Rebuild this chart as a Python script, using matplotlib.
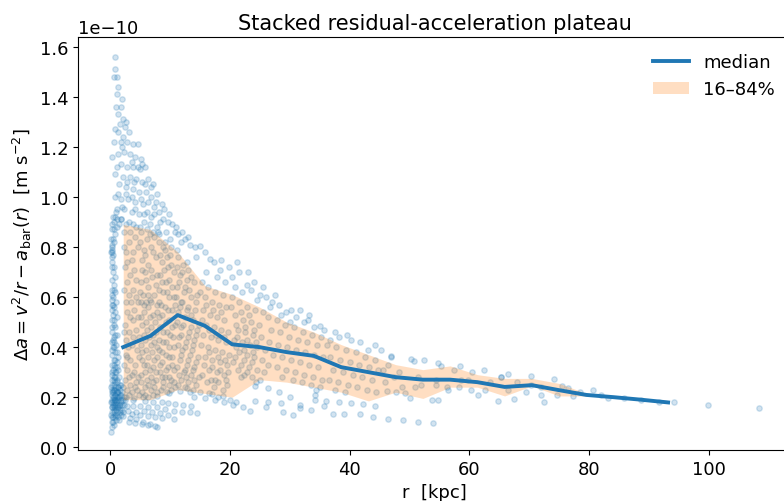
import numpy as np
import matplotlib
matplotlib.use("Agg")
import matplotlib.pyplot as plt
from matplotlib.patches import Patch
from matplotlib.lines import Line2D

# --- data (a in units of 1e-10 m s^-2, r in kpc) ---

# binned median and 16-84% band
med_r = [2.2, 6.75, 11.3, 15.85, 20.4, 24.95, 29.5, 34.05, 38.6, 43.15, 47.7,
         52.25, 56.8, 61.35, 65.9, 70.45, 75.0, 79.55, 84.1, 88.65, 93.2]
med_a = [0.40, 0.445, 0.528, 0.485, 0.411, 0.40, 0.38, 0.365, 0.32, 0.30, 0.28,
         0.27, 0.27, 0.26, 0.241, 0.248, 0.228, 0.209, 0.20, 0.19, 0.179]
p16_a = [0.19, 0.19, 0.23, 0.215, 0.20, 0.27, 0.26, 0.24, 0.22, 0.185, 0.22,
         0.195, 0.24, 0.24, 0.205, 0.245, 0.205, 0.205, 0.198, 0.188, 0.177]
p84_a = [0.89, 0.87, 0.78, 0.645, 0.61, 0.56, 0.50, 0.46, 0.41, 0.37, 0.33,
         0.31, 0.325, 0.29, 0.275, 0.275, 0.255, 0.215, 0.202, 0.192, 0.181]

x_ticks = [0, 20, 40, 60, 80, 100]
y_ticks = [0.0, 0.2, 0.4, 0.6, 0.8, 1.0, 1.2, 1.4, 1.6]

# individual radii, innermost points of the small systems
col_pts = [
    (0.2, 0.06), (0.4, 0.08), (0.3, 0.10), (0.7, 0.09), (0.5, 0.12), (1.0, 0.11), (0.2, 0.13),
    (0.8, 0.13), (1.3, 0.12), (0.4, 0.14), (1.1, 0.14), (0.6, 0.15), (1.6, 0.14), (0.3, 0.16),
    (0.9, 0.16), (1.4, 0.16), (2.0, 0.15), (0.5, 0.17), (1.2, 0.17), (0.2, 0.18), (0.7, 0.18),
    (1.0, 0.18), (1.7, 0.17), (2.3, 0.17), (0.4, 0.19), (0.8, 0.19), (1.3, 0.19), (0.6, 0.20),
    (1.1, 0.20), (1.5, 0.20), (2.1, 0.19), (0.3, 0.21), (0.9, 0.21), (1.2, 0.22), (0.5, 0.22),
    (1.8, 0.21), (0.7, 0.23), (1.0, 0.23), (0.2, 0.24), (1.4, 0.24), (0.6, 0.25), (0.9, 0.26),
    (1.6, 0.25), (0.4, 0.27), (1.2, 0.27), (0.7, 0.28), (0.3, 0.29), (1.0, 0.30), (0.5, 0.31),
    (1.4, 0.31), (0.8, 0.32), (0.3, 0.33), (1.1, 0.34), (0.6, 0.35), (0.4, 0.37), (1.3, 0.36),
    (0.8, 0.38), (0.5, 0.40), (1.0, 0.41), (0.3, 0.42), (0.7, 0.44), (1.2, 0.45), (0.4, 0.46),
    (0.9, 0.48), (0.6, 0.49), (0.3, 0.51), (1.1, 0.52), (0.5, 0.53), (0.8, 0.54), (0.4, 0.55),
    (0.7, 0.56), (0.3, 0.57), (1.0, 0.58), (0.5, 0.60), (0.8, 0.62), (0.3, 0.63), (0.6, 0.65),
    (0.4, 0.67), (0.9, 0.68), (0.5, 0.70), (0.3, 0.72), (0.4, 0.74), (0.3, 0.76), (0.5, 0.77),
    (0.3, 0.79), (0.4, 0.80), (0.3, 0.81), (0.6, 0.82), (0.2, 0.83), (0.8, 0.85), (0.4, 0.87),
    (1.1, 0.88), (0.6, 0.90), (1.5, 0.89), (0.9, 0.92), (1.9, 0.91),
    (0.6, 0.16), (1.1, 0.16), (1.9, 0.18), (0.9, 0.19), (1.4, 0.22), (0.4, 0.23), (1.7, 0.23),
    (0.8, 0.28), (0.6, 0.42), (0.4, 0.59), (0.2, 0.78),
    (0.5, 0.10), (0.9, 0.12), (1.5, 0.11), (0.3, 0.12), (1.2, 0.13), (1.9, 0.13), (0.7, 0.14),
    (1.7, 0.15), (2.2, 0.14), (0.4, 0.16), (1.0, 0.15), (0.8, 0.17), (1.5, 0.17), (2.0, 0.17),
    (0.3, 0.18), (1.1, 0.19), (1.8, 0.19), (0.6, 0.19), (0.5, 0.20), (1.3, 0.20), (2.3, 0.20),
    (0.8, 0.21), (1.6, 0.21), (0.3, 0.22), (1.1, 0.22), (2.0, 0.22), (0.6, 0.23), (1.3, 0.24),
    (0.9, 0.24), (0.4, 0.25), (1.8, 0.25), (1.1, 0.26), (0.6, 0.27), (1.5, 0.28), (0.3, 0.30),
    (0.9, 0.30), (1.2, 0.32), (0.6, 0.33), (0.9, 0.35), (0.4, 0.39), (1.1, 0.38), (0.7, 0.40),
    (0.5, 0.43), (0.9, 0.45), (0.3, 0.48), (0.7, 0.51), (0.5, 0.57), (0.4, 0.61), (0.7, 0.63),
    (0.6, 0.72), (0.4, 0.78), (0.5, 0.83), (0.7, 0.87), (1.2, 0.91), (0.3, 0.89),
]

# steep high-acceleration wedge at small r
wedge_pts = [
    (0.8, 1.56), (0.8, 1.51), (0.6, 1.48), (1.1, 1.48), (1.4, 1.44), (1.2, 1.41), (2.0, 1.39),
    (1.9, 1.36), (1.4, 1.33), (2.1, 1.31), (2.7, 1.30), (0.9, 1.27), (1.3, 1.26), (3.1, 1.26),
    (2.2, 1.24), (0.7, 1.22), (1.9, 1.22), (2.9, 1.22), (3.8, 1.21), (4.7, 1.21), (0.3, 1.16),
    (1.3, 1.17), (2.4, 1.18), (3.4, 1.17), (4.2, 1.16), (5.2, 1.15), (1.8, 1.13), (2.8, 1.12),
    (3.9, 1.12), (5.0, 1.11), (5.8, 1.12), (0.9, 1.09), (2.1, 1.08), (3.3, 1.08), (4.4, 1.07),
    (5.4, 1.06), (6.4, 1.07), (7.2, 1.05), (1.5, 1.05), (2.6, 1.04), (3.8, 1.03), (4.9, 1.02),
    (6.0, 1.02), (6.9, 1.00), (0.8, 1.00), (1.9, 0.99), (3.0, 0.99), (4.2, 0.98), (5.5, 0.97),
    (7.6, 0.98), (8.6, 0.97), (1.2, 0.95), (2.4, 0.95), (3.6, 0.94), (4.8, 0.93), (6.2, 0.94),
    (7.3, 0.93), (8.1, 0.94), (0.5, 0.92), (1.8, 0.91), (3.2, 0.90), (5.6, 0.90), (6.7, 0.89),
    (8.9, 0.91), (9.6, 0.90), (10.3, 0.89), (4.3, 0.88), (7.8, 0.88), (9.3, 0.86), (10.8, 0.86),
    (11.4, 0.85), (12.5, 0.83), (11.9, 0.82), (13.4, 0.81), (10.0, 0.83), (14.2, 0.80),
    (5.3, 1.13), (6.8, 1.04), (7.9, 1.01), (9.0, 0.95), (9.9, 0.93), (11.0, 0.88), (12.0, 0.86),
    (13.0, 0.84),
    (1.0, 1.36), (1.6, 1.29), (2.5, 1.28), (1.1, 1.12), (2.0, 1.20), (3.6, 1.14), (4.6, 1.12),
    (2.9, 1.06), (4.0, 1.06), (5.8, 1.05), (1.4, 1.01), (2.6, 1.01), (3.6, 1.00), (5.1, 0.99),
    (6.3, 0.98), (7.4, 0.96), (2.0, 0.96), (4.1, 0.95), (5.7, 0.93), (6.9, 0.92), (8.4, 0.90),
    (1.0, 0.94), (2.7, 0.89), (3.8, 0.89), (5.0, 0.88), (6.2, 0.87), (7.2, 0.86), (8.1, 0.85),
    (9.2, 0.82), (10.2, 0.80), (11.2, 0.79),
]

# points above the band at intermediate radii
upper_pts = [
    (15.0, 0.805), (16.7, 0.752), (18.3, 0.71), (20.3, 0.68), (22.8, 0.65), (25.0, 0.61),
    (27.0, 0.58), (29.4, 0.54), (31.1, 0.52), (35.0, 0.485), (15.8, 0.78), (17.3, 0.74),
    (16.0, 0.70), (17.8, 0.68), (19.2, 0.66), (18.5, 0.75), (14.3, 0.76), (20.8, 0.64),
    (21.5, 0.70), (22.0, 0.62), (23.6, 0.63), (24.1, 0.66), (24.5, 0.59), (26.0, 0.60),
    (26.7, 0.56), (28.2, 0.57), (28.5, 0.53), (30.2, 0.55), (30.0, 0.50), (32.4, 0.50),
    (33.3, 0.53), (34.0, 0.48), (35.8, 0.47), (36.7, 0.43), (37.5, 0.46), (38.3, 0.44),
    (39.5, 0.45), (40.3, 0.43), (41.8, 0.42), (43.0, 0.39), (44.2, 0.41), (19.8, 0.72),
    (21.2, 0.74), (23.0, 0.70), (25.6, 0.64), (27.6, 0.61), (31.8, 0.55), (33.0, 0.51),
]

# points inside the band region
band_pts = [
    (2.4, 0.86), (3.1, 0.82), (2.7, 0.78), (3.6, 0.75), (2.5, 0.72), (3.3, 0.69), (4.1, 0.84),
    (4.6, 0.80), (4.0, 0.71), (2.9, 0.66), (3.8, 0.63), (4.4, 0.60), (2.6, 0.58), (3.5, 0.58),
    (4.7, 0.58), (2.8, 0.54), (3.9, 0.51), (2.5, 0.49), (3.2, 0.46), (4.3, 0.47), (2.7, 0.43),
    (3.6, 0.41), (4.5, 0.39), (2.6, 0.37), (3.4, 0.35), (4.2, 0.33), (2.9, 0.31), (3.7, 0.29),
    (4.6, 0.28), (2.5, 0.27), (3.3, 0.25), (4.1, 0.24), (2.8, 0.23), (3.6, 0.22), (4.8, 0.21),
    (2.6, 0.20), (3.9, 0.19), (4.4, 0.26), (3.0, 0.40), (4.9, 0.44),
    (5.2, 0.86), (6.1, 0.83), (5.6, 0.79), (6.8, 0.80), (7.4, 0.84), (5.3, 0.75), (6.4, 0.73),
    (7.6, 0.76), (5.8, 0.70), (7.0, 0.68), (5.1, 0.66), (6.3, 0.64), (7.7, 0.65), (5.5, 0.61),
    (6.7, 0.59), (5.2, 0.58), (6.0, 0.58), (6.9, 0.58), (7.9, 0.57), (5.7, 0.54), (6.6, 0.52),
    (7.5, 0.50), (5.3, 0.49), (6.2, 0.47), (7.2, 0.45), (5.9, 0.43), (6.8, 0.41), (7.8, 0.40),
    (5.4, 0.38), (6.4, 0.36), (7.3, 0.35), (5.6, 0.33), (6.6, 0.31), (7.6, 0.30), (5.2, 0.29),
    (6.1, 0.27), (7.1, 0.26), (5.8, 0.24), (6.9, 0.23), (7.8, 0.22), (5.4, 0.22), (6.3, 0.20),
    (8.2, 0.82), (9.1, 0.79), (10.0, 0.77), (8.6, 0.74), (9.7, 0.72), (10.6, 0.70), (8.3, 0.69),
    (9.3, 0.66), (10.4, 0.64), (8.8, 0.62), (9.9, 0.60), (8.1, 0.58), (9.2, 0.56), (10.3, 0.55),
    (8.7, 0.53), (9.8, 0.51), (10.8, 0.49), (8.4, 0.48), (9.5, 0.46), (10.5, 0.44), (8.9, 0.42),
    (9.9, 0.40), (8.2, 0.39), (9.3, 0.37), (10.4, 0.36), (8.7, 0.34), (9.7, 0.32), (10.7, 0.31),
    (8.3, 0.30), (9.2, 0.28), (10.2, 0.27), (8.8, 0.26), (9.8, 0.25), (10.9, 0.24), (8.5, 0.23),
    (9.5, 0.22),
    (11.3, 0.76), (12.2, 0.73), (13.1, 0.71), (11.7, 0.69), (12.8, 0.67), (14.0, 0.66),
    (11.2, 0.64), (12.4, 0.62), (13.5, 0.60), (14.6, 0.61), (11.8, 0.58), (13.0, 0.56),
    (14.2, 0.55), (11.4, 0.54), (12.6, 0.52), (13.8, 0.51), (14.8, 0.49), (11.9, 0.48),
    (13.2, 0.46), (14.4, 0.45), (11.5, 0.44), (12.7, 0.42), (13.9, 0.41), (12.1, 0.39),
    (13.4, 0.37), (14.7, 0.36), (11.6, 0.35), (12.9, 0.33), (14.1, 0.32), (12.3, 0.30),
    (13.6, 0.29), (14.9, 0.28), (11.8, 0.27), (13.0, 0.26), (14.3, 0.25), (12.5, 0.24),
    (13.8, 0.23),
    (15.3, 0.66), (16.4, 0.64), (17.6, 0.62), (18.8, 0.61), (15.8, 0.60), (17.0, 0.58),
    (18.2, 0.57), (19.4, 0.56), (15.5, 0.55), (16.7, 0.53), (17.9, 0.52), (19.1, 0.51),
    (16.1, 0.49), (17.3, 0.48), (18.5, 0.47), (19.7, 0.46), (15.6, 0.45), (16.9, 0.44),
    (18.0, 0.43), (19.3, 0.42), (16.3, 0.40), (17.5, 0.39), (18.7, 0.38), (19.9, 0.37),
    (15.9, 0.36), (17.1, 0.35), (18.3, 0.34), (19.5, 0.33), (16.6, 0.31), (17.8, 0.30),
    (19.0, 0.29), (15.4, 0.29), (16.8, 0.27), (18.1, 0.26), (19.6, 0.25), (17.4, 0.24),
    (18.9, 0.23),
    (20.4, 0.60), (21.6, 0.58), (22.9, 0.56), (24.2, 0.55), (25.5, 0.54), (20.9, 0.53),
    (22.2, 0.51), (23.5, 0.50), (24.8, 0.49), (21.3, 0.47), (22.6, 0.46), (23.9, 0.45),
    (25.2, 0.44), (20.7, 0.43), (22.0, 0.42), (23.3, 0.41), (24.6, 0.40), (25.8, 0.39),
    (21.5, 0.38), (22.8, 0.37), (24.1, 0.36), (25.4, 0.35), (20.6, 0.34), (21.9, 0.33),
    (23.2, 0.32), (24.5, 0.31), (25.7, 0.30), (22.4, 0.29), (23.7, 0.28), (25.0, 0.27),
    (24.3, 0.26),
    (26.3, 0.52), (27.8, 0.51), (29.3, 0.49), (30.8, 0.48), (32.3, 0.46), (33.8, 0.45),
    (35.2, 0.44), (26.9, 0.47), (28.4, 0.46), (29.9, 0.44), (31.4, 0.43), (32.9, 0.42),
    (34.5, 0.41), (26.6, 0.42), (28.1, 0.41), (29.6, 0.40), (31.1, 0.39), (32.6, 0.38),
    (34.1, 0.37), (35.6, 0.36), (27.2, 0.37), (28.7, 0.36), (30.2, 0.35), (31.7, 0.34),
    (33.2, 0.33), (34.8, 0.32), (26.4, 0.33), (27.9, 0.32), (29.4, 0.31), (30.9, 0.30),
    (32.4, 0.29), (33.9, 0.28), (35.4, 0.27), (28.8, 0.28), (30.5, 0.27), (32.0, 0.26),
    (33.5, 0.25), (35.0, 0.24),
    (36.3, 0.41), (37.8, 0.40), (39.4, 0.39), (41.0, 0.38), (42.6, 0.36), (44.2, 0.35),
    (36.8, 0.36), (38.4, 0.35), (40.0, 0.34), (41.6, 0.33), (43.2, 0.32), (44.7, 0.31),
    (37.2, 0.31), (38.9, 0.30), (40.5, 0.29), (42.1, 0.28), (43.7, 0.27), (36.5, 0.27),
    (38.1, 0.26), (39.7, 0.25), (41.3, 0.24), (42.9, 0.23), (44.5, 0.22), (37.5, 0.23),
    (39.2, 0.22),
]

# more points of the crowded inner band
band_pts_2 = [
    (2.3, 0.80), (2.9, 0.74), (3.4, 0.86), (3.9, 0.78), (4.3, 0.67), (2.4, 0.63), (3.1, 0.61),
    (4.0, 0.55), (3.3, 0.52), (4.6, 0.52), (2.3, 0.46), (3.8, 0.44), (4.8, 0.36), (2.4, 0.33),
    (3.1, 0.28), (4.0, 0.30), (2.2, 0.24), (4.5, 0.23), (3.2, 0.21), (2.9, 0.36),
    (5.0, 0.82), (5.9, 0.77), (6.6, 0.85), (7.2, 0.78), (5.4, 0.71), (6.0, 0.67), (6.9, 0.71),
    (7.8, 0.69), (5.0, 0.62), (6.4, 0.61), (7.3, 0.61), (5.6, 0.57), (6.4, 0.56), (7.1, 0.53),
    (7.8, 0.54), (5.1, 0.52), (6.0, 0.50), (6.9, 0.48), (7.7, 0.46), (5.6, 0.45), (6.5, 0.44),
    (7.4, 0.42), (5.1, 0.41), (6.0, 0.39), (7.0, 0.38), (7.9, 0.36), (5.3, 0.35), (6.2, 0.33),
    (7.2, 0.32), (5.9, 0.30), (6.8, 0.28), (7.7, 0.27), (5.1, 0.26), (6.4, 0.25), (7.4, 0.24),
    (5.9, 0.21), (7.1, 0.21),
    (8.0, 0.86), (8.8, 0.80), (9.5, 0.76), (8.4, 0.77), (9.0, 0.71), (10.2, 0.73), (8.6, 0.66),
    (9.8, 0.67), (8.1, 0.63), (9.5, 0.62), (10.6, 0.60), (8.5, 0.57), (9.6, 0.55), (10.8, 0.57),
    (8.2, 0.52), (9.4, 0.50), (10.4, 0.48), (8.8, 0.46), (10.0, 0.45), (8.1, 0.43), (9.3, 0.42),
    (10.6, 0.40), (8.6, 0.38), (9.8, 0.36), (8.4, 0.33), (9.4, 0.31), (10.4, 0.33), (8.7, 0.28),
    (9.9, 0.28), (10.6, 0.26), (8.9, 0.24), (10.1, 0.23),
    (11.1, 0.72), (12.0, 0.70), (12.9, 0.74), (11.5, 0.66), (12.6, 0.64), (13.6, 0.68),
    (11.0, 0.60), (12.1, 0.58), (13.2, 0.63), (14.3, 0.58), (11.6, 0.56), (12.8, 0.55),
    (13.5, 0.53), (11.1, 0.50), (12.2, 0.49), (13.5, 0.48), (14.5, 0.47), (11.8, 0.45),
    (13.0, 0.44), (14.1, 0.43), (11.3, 0.41), (12.5, 0.40), (13.7, 0.39), (11.9, 0.37),
    (13.1, 0.35), (14.4, 0.34), (11.2, 0.32), (12.6, 0.31), (13.9, 0.31), (11.5, 0.29),
    (12.7, 0.28), (14.0, 0.27), (11.3, 0.25), (12.9, 0.235),
    (15.1, 0.62), (16.0, 0.57), (17.2, 0.55), (18.5, 0.54), (15.3, 0.51), (16.5, 0.47),
    (17.7, 0.45), (19.0, 0.44), (15.2, 0.41), (16.6, 0.38), (18.0, 0.36), (19.2, 0.35),
    (15.7, 0.33), (17.0, 0.32), (18.4, 0.31), (19.7, 0.30), (16.2, 0.26), (17.6, 0.27),
    (19.3, 0.27),
    (20.2, 0.56), (21.8, 0.54), (23.2, 0.53), (21.0, 0.49), (22.5, 0.48), (24.0, 0.47),
    (21.2, 0.44), (22.8, 0.43), (24.3, 0.42), (21.0, 0.40), (22.4, 0.39), (23.8, 0.38),
    (20.9, 0.36), (22.3, 0.35), (23.7, 0.34), (21.4, 0.31), (22.9, 0.30), (21.8, 0.28),
]

# low tracks fanning out below the band
fan_pts = [
    (2.5, 0.19), (4.0, 0.195), (5.5, 0.20), (7.8, 0.205), (9.8, 0.215), (11.7, 0.225),
    (13.3, 0.222), (15.0, 0.219), (17.0, 0.212), (18.9, 0.205), (20.0, 0.19), (21.1, 0.179),
    (22.2, 0.162), (23.3, 0.145), (2.8, 0.165), (3.9, 0.166), (5.0, 0.165), (6.4, 0.162),
    (7.8, 0.159), (9.2, 0.152), (10.6, 0.145), (12.0, 0.142), (13.3, 0.139), (14.5, 0.135),
    (2.2, 0.125), (3.3, 0.118), (4.4, 0.112), (5.5, 0.102), (6.7, 0.092), (7.8, 0.079),
    (3.6, 0.132), (5.0, 0.128), (6.4, 0.125), (7.5, 0.12), (8.6, 0.115), (10.6, 0.112),
    (3.1, 0.099), (4.2, 0.095), (5.3, 0.092), (6.4, 0.088), (7.5, 0.085), (5.8, 0.185),
    (7.2, 0.182), (8.6, 0.179), (9.7, 0.176), (10.8, 0.172), (12.2, 0.17), (13.6, 0.165),
    (3.0, 0.145), (4.3, 0.14), (5.6, 0.146), (7.0, 0.14), (8.4, 0.135), (9.6, 0.128),
    (14.0, 0.20), (15.8, 0.195), (17.5, 0.188), (19.0, 0.18), (20.5, 0.17), (16.5, 0.215),
    (18.0, 0.20), (24.2, 0.245), (26.4, 0.235), (28.3, 0.221), (30.0, 0.20), (24.2, 0.185),
    (26.4, 0.18), (28.6, 0.175), (31.7, 0.17), (34.2, 0.19), (36.0, 0.185), (28.9, 0.139),
    (31.7, 0.155), (34.2, 0.21), (34.4, 0.23), (33.5, 0.15), (35.8, 0.165), (26.0, 0.16),
    (30.5, 0.13),
]

# outer radii
outer_pts = [
    (45.3, 0.388), (47.0, 0.362), (50.3, 0.352), (50.8, 0.345), (54.7, 0.336), (55.3, 0.325),
    (58.5, 0.324), (60.4, 0.30), (62.5, 0.31), (66.4, 0.292), (65.3, 0.279), (70.3, 0.283),
    (74.2, 0.272), (75.4, 0.245), (45.6, 0.31), (46.5, 0.33), (47.4, 0.28), (46.0, 0.26),
    (47.8, 0.22), (46.2, 0.225), (49.3, 0.215), (48.3, 0.299), (48.8, 0.24), (50.1, 0.196),
    (51.0, 0.24), (51.4, 0.28), (52.0, 0.25), (53.7, 0.188), (54.4, 0.25), (54.4, 0.27),
    (56.3, 0.24), (56.4, 0.23), (58.2, 0.24), (58.6, 0.27), (60.3, 0.23), (61.4, 0.21),
    (62.6, 0.228), (64.8, 0.184), (65.3, 0.28), (66.5, 0.23), (67.5, 0.193), (69.4, 0.22),
    (70.3, 0.25), (71.9, 0.21), (72.4, 0.18), (74.7, 0.21), (77.4, 0.205), (80.6, 0.229),
    (83.2, 0.195), (85.9, 0.195), (88.6, 0.19), (91.6, 0.18), (94.2, 0.179), (99.8, 0.168),
    (108.4, 0.155), (46.4, 0.112), (48.9, 0.108), (51.4, 0.102), (53.9, 0.097), (38.3, 0.179),
    (40.3, 0.175), (42.2, 0.171), (44.2, 0.165), (37.3, 0.132), (39.0, 0.134), (41.7, 0.132),
    (43.9, 0.121), (54.7, 0.188), (57.5, 0.31), (59.8, 0.27), (63.5, 0.26), (68.0, 0.26),
    (72.0, 0.24), (76.5, 0.235), (78.5, 0.22), (82.0, 0.21), (46.9, 0.363), (52.5, 0.35),
]

scale = 1e-10
pts = np.array(col_pts + wedge_pts + upper_pts + band_pts + band_pts_2 + fan_pts + outer_pts)
r_all = pts[:, 0]
a_all = pts[:, 1] * scale

fig = plt.figure(figsize=(7.84, 5.02), dpi=100)
ax = fig.add_axes([0.0995, 0.1016, 0.910, 0.8227])

ax.scatter(r_all, a_all, s=15, color='tab:blue', alpha=0.2)
ax.fill_between(med_r, np.array(p16_a) * scale, np.array(p84_a) * scale,
                color='tab:orange', alpha=0.25, linewidth=0)
ax.plot(med_r, np.array(med_a) * scale, color='tab:blue', lw=2.8)

ax.set_xlim(-5.35, 113.8)
ax.set_ylim(-0.011e-10, 1.639e-10)
ax.set_xticks(x_ticks)
ax.set_yticks(np.array(y_ticks) * scale)
ax.tick_params(labelsize=13)
ax.yaxis.get_offset_text().set_fontsize(13)

ax.set_xlabel('r  [kpc]', fontsize=13)
ax.set_ylabel(r'$\Delta a = v^2/r - a_{\rm bar}(r)$  [m s$^{-2}$]', fontsize=13)
ax.set_title('Stacked residual-acceleration plateau', fontsize=15)

handles = [Line2D([], [], color='tab:blue', lw=2.8),
           Patch(facecolor='tab:orange', alpha=0.25, linewidth=0)]
ax.legend(handles, ['median', '16–84%'], loc='upper right', frameon=False, fontsize=13)

fig.savefig('out.png', dpi=100)
